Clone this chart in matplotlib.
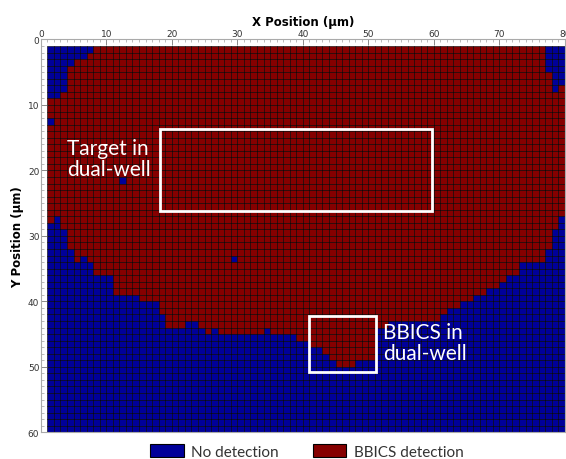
import numpy as np
import matplotlib
matplotlib.use("Agg")
import matplotlib.pyplot as plt
from matplotlib.patches import Rectangle, Patch
from matplotlib.ticker import MultipleLocator

# 測量網格: 79 x 59 個單元 (x 1..80, y 1..60 µm)
n_cols = 79
n_rows = 59

# 每一列中第一個「無檢測」的行 (下邊界), 列 1..79
first_blue_row = [28, 27, 29, 32, 34, 33, 34, 36, 36, 36,
                  39, 39, 39, 39, 40, 40, 40, 42, 44, 44,
                  44, 43, 43, 44, 45, 44, 45, 45, 45, 45,
                  45, 45, 45, 44, 45, 45, 45, 45, 46, 46,
                  47, 47, 48, 49, 50, 50, 50, 49, 49, 49,
                  44, 44, 43, 43, 43, 43, 43, 43, 43, 43,
                  42, 41, 41, 40, 40, 39, 39, 38, 38, 37,
                  36, 36, 34, 34, 34, 34, 32, 29, 27]

# 左上角無檢測區: 行 1..8 的寬度 (從第1列開始)
top_left_width = [7, 6, 4, 3, 3, 3, 3, 2]

# 右上角無檢測區: (行, 起始列, 結束列)
top_right_rows = [1, 2, 3, 4, 5, 6, 7]
top_right_start = [77, 77, 77, 77, 78, 78, 78]
top_right_end = [79, 79, 79, 79, 79, 79, 78]

# 孤立的無檢測點: (行, 列)
spot_rows = [12, 21, 33]
spot_cols = [1, 12, 29]

legend_labels = ["No detection", "BBICS detection"]
c_blue = (0.0, 0.0, 0.6)
c_red = (0.52, 0.0, 0.0)

# 建立矩陣: 1 = BBICS 檢測, 0 = 無檢測
C = np.ones((n_rows, n_cols))
for c in range(n_cols):
    C[first_blue_row[c] - 1:, c] = 0
for r, w in enumerate(top_left_width):
    C[r, :w] = 0
for r, s, e in zip(top_right_rows, top_right_start, top_right_end):
    C[r - 1, s - 1:e] = 0
for r, c in zip(spot_rows, spot_cols):
    C[r - 1, c - 1] = 0

xe = np.arange(1, n_cols + 2)
ye = np.arange(1, n_rows + 2)

fig = plt.figure(figsize=(5.66, 4.60), dpi=100)
ax = fig.add_axes([0.072, 0.058, 0.926, 0.854])

cmap = matplotlib.colors.ListedColormap([c_blue, c_red])
ax.pcolormesh(xe, ye, C, cmap=cmap, vmin=0, vmax=1,
              edgecolors="black", linewidth=0.4, antialiased=True)

ax.set_xlim(0, 80)
ax.set_ylim(60, 0)
ax.xaxis.set_ticks_position("top")
ax.xaxis.set_label_position("top")
ax.set_xticks(np.arange(0, 81, 10))
ax.set_yticks(np.arange(0, 61, 10))
ax.xaxis.set_minor_locator(MultipleLocator(1))
ax.yaxis.set_minor_locator(MultipleLocator(1))
ax.tick_params(which="major", length=4, width=0.6, color="#777777",
               labelsize=6.5, labelcolor="#333333", pad=1, direction="in")
ax.tick_params(which="minor", length=2, width=0.4, color="#888888", direction="in")
ax.tick_params(axis="x", which="both", bottom=False, top=True)
ax.tick_params(axis="y", which="both", left=True, right=False)
for s in ax.spines.values():
    s.set_color("#aaaaaa")
    s.set_linewidth(0.8)

ax.set_xlabel("X Position (µm)", fontsize=8.5, fontweight="bold", labelpad=3)
ax.set_ylabel("Y Position (µm)", fontsize=8.5, fontweight="bold", labelpad=3)

# 白色方框
ax.add_patch(Rectangle((18.2, 13.7), 41.5, 12.5, fill=False, ec="white", lw=2))
ax.add_patch(Rectangle((41.0, 42.3), 10.2, 8.5, fill=False, ec="white", lw=2))

ax.text(4.0, 18.2, "Target in\ndual-well", color="white", fontsize=15,
        family="Lato", va="center", ha="left", linespacing=1.05)
ax.text(52.2, 46.3, "BBICS in\ndual-well", color="white", fontsize=15,
        family="Lato", va="center", ha="left", linespacing=1.05)

handles = [Patch(facecolor=c_blue, edgecolor="black", lw=0.8),
           Patch(facecolor=c_red, edgecolor="black", lw=0.8)]
leg = fig.legend(handles, legend_labels, loc="center", bbox_to_anchor=(0.542, 0.017),
                 ncol=2, frameon=False, prop={"family": "Lato", "size": 11},
                 handlelength=2.2, handleheight=1.0, columnspacing=2.2, handletextpad=0.5)
for t in leg.get_texts():
    t.set_color("#333333")

fig.savefig("out.png", dpi=100)
